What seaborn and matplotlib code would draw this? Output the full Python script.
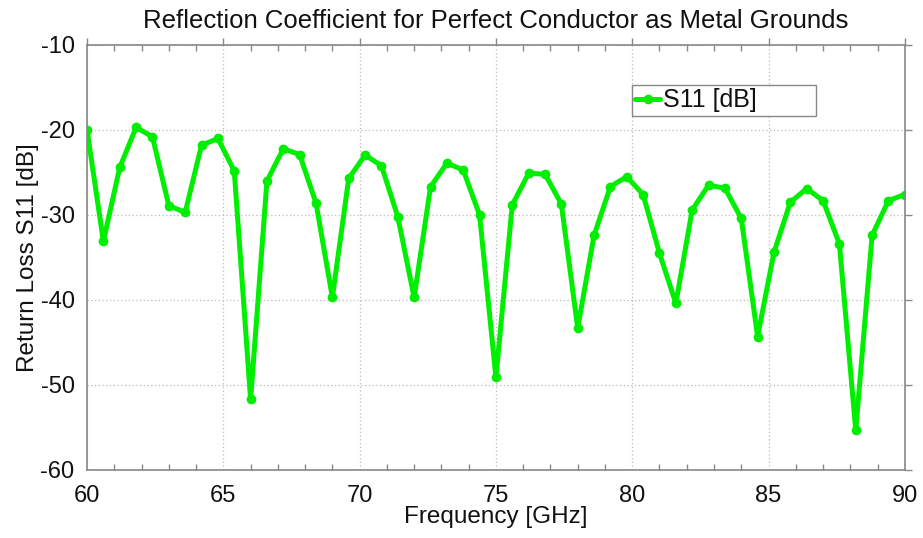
"""
plot.py

Return loss (S11) versus frequency for a perfect-conductor metal ground.
"""

import numpy as np
import pandas as pd
import matplotlib
matplotlib.use("Agg")
import matplotlib.pyplot as plt
from matplotlib.ticker import MultipleLocator
import seaborn as sns

# sweep points, 60-90 GHz in 0.6 GHz steps
freq_ghz = np.round(np.arange(51) * 0.6 + 60, 2)
s11_db = [
    -20.0, -33.1, -24.4, -19.7, -20.8, -28.9, -29.7, -21.8, -21.0, -24.8,
    -51.7, -26.0, -22.2, -22.9, -28.6, -39.7, -25.7, -22.95, -24.2, -30.2,
    -39.7, -26.7, -23.9, -24.7, -30.0, -49.1, -28.8, -25.1, -25.2, -28.7,
    -43.3, -32.4, -26.65, -25.5, -27.6, -34.5, -40.4, -29.4, -26.5, -26.85,
    -30.4, -44.3, -34.4, -28.5, -26.9, -28.3, -33.4, -55.35, -32.4, -28.3,
    -27.6,
]
series_label = "S11 [dB]"
x_ticks = [60, 65, 70, 75, 80, 85, 90]
y_ticks = [-60, -50, -40, -30, -20, -10]


def main() -> None:
    df = pd.DataFrame({"freq": freq_ghz, "s11": s11_db, "series": series_label})

    sns.set_theme(style="white")
    plt.rcParams["font.family"] = ["Liberation Sans", "DejaVu Sans"]
    plt.rcParams["axes.unicode_minus"] = False
    plt.rcParams["text.color"] = "#111111"
    plt.rcParams["axes.labelcolor"] = "#111111"

    fig = plt.figure(figsize=(9.23, 5.38), dpi=100)
    ax = fig.add_axes([0.0943, 0.1264, 0.886, 0.79])

    sns.lineplot(
        data=df, x="freq", y="s11", hue="series",
        palette=["#00ee00"], marker="o", markersize=7,
        markeredgewidth=0, linewidth=3.6, ax=ax,
    )

    ax.set_xlim(60, 90)
    ax.set_ylim(-60, -10)
    ax.set_xticks(x_ticks)
    ax.set_yticks(y_ticks)
    ax.xaxis.set_minor_locator(MultipleLocator(1))
    ax.tick_params(axis="both", which="major", labelsize=17,
                   color="#888888", length=5, width=1, direction="out",
                   top=True, right=True, labelcolor="#111111")
    ax.tick_params(axis="x", which="major", pad=6)
    ax.tick_params(axis="y", which="major", pad=4)
    ax.tick_params(axis="x", which="minor", color="#888888", length=4,
                   width=1, direction="in", top=True, bottom=True)
    for side in ax.spines.values():
        side.set_color("#888888")
        side.set_linewidth(1.2)

    ax.grid(True, which="major", linestyle=(0, (1, 2)), color="#bbbbbb",
            linewidth=0.9)

    ax.set_xlabel("Frequency [GHz]", fontsize=17.5, labelpad=-1)
    ax.set_ylabel("Return Loss S11 [dB]", fontsize=17.5, labelpad=1)
    ax.set_title("Reflection Coefficient for Perfect Conductor as Metal Grounds",
                 fontsize=18.5, pad=12, color="#111111")

    leg = ax.legend(loc="upper left", bbox_to_anchor=(0.666, 0.907),
                    fontsize=18, frameon=True, fancybox=False,
                    handlelength=1.0, handletextpad=0.1, borderpad=0.15,
                    borderaxespad=0, framealpha=1)
    leg.get_frame().set_edgecolor("#888888")
    leg.get_frame().set_linewidth(1.0)
    # pad the box out a bit to the right like the original
    for t in leg.get_texts():
        t.set_text(series_label + "        ")
        t.set_color("#111111")

    fig.savefig("out.png", dpi=100)
    plt.close(fig)


if __name__ == "__main__":
    main()
